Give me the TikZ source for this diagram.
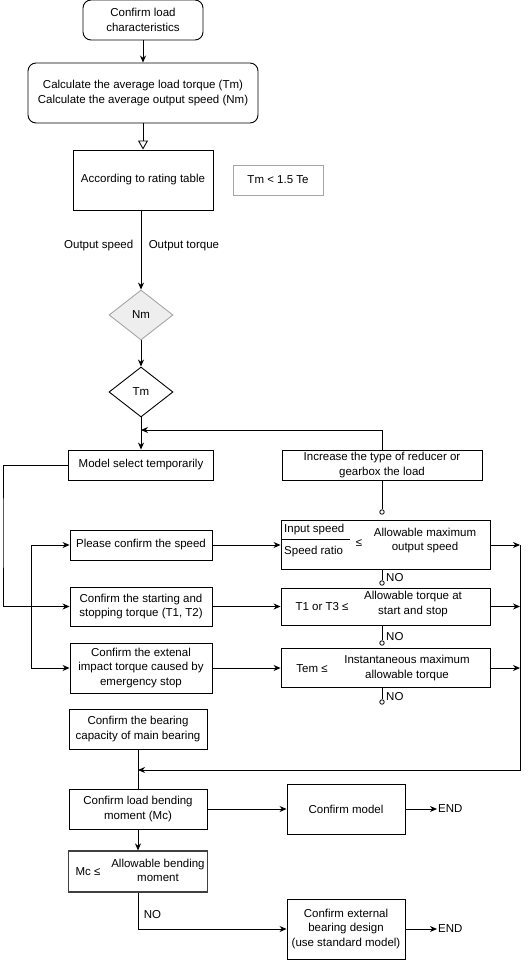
\documentclass[tikz,border=0pt]{standalone}
\usepackage{fontspec}
\setmainfont{Liberation Sans}
\usepackage{xcolor}
\usetikzlibrary{shapes.geometric,arrows.meta}
\definecolor{ink}{HTML}{000000}
\definecolor{muted}{HTML}{A6A6A6}
\definecolor{shade}{HTML}{EEEEEE}
\tikzset{
  box/.style={draw=ink, line width=0.9pt, fill=white, align=center, inner sep=2pt},
  rbox/.style={box, rounded corners=8pt},
  note/.style={draw=muted, line width=0.9pt, align=center},
  dec/.style={diamond, draw=ink, line width=0.9pt, inner sep=0pt, minimum width=64pt, minimum height=50pt},
  wire/.style={draw=ink, line width=0.9pt},
  arr/.style={wire, -{Stealth[length=7pt,width=6pt]}},
  open/.style={wire, -{Triangle[open,length=9pt,width=10pt]}},
  hole/.style={circle, draw=ink, fill=white, line width=0.8pt, inner sep=0pt, minimum size=4.5pt},
  lab/.style={align=center, inner sep=1pt},
}

\begin{document}
\begin{tikzpicture}[x=1pt, y=-1pt, every node/.style={font=\fontsize{11.5}{14.5}\selectfont}]
  \fill[white] (0,0) rectangle (530,960);
  \useasboundingbox (0,0) rectangle (530,960);
  % main column
  \node[rbox, minimum width=120pt, minimum height=40pt] (load) at (143,20) {Confirm load\\characteristics};
  \node[rbox, minimum width=230pt, minimum height=60pt] (calc) at (143,93) {Calculate the average load torque (Tm)\\Calculate the average output speed (Nm)};
  \node[box, minimum width=140pt, minimum height=60pt] (rating) at (143,180) {According to rating table};
  \node[note, minimum width=90pt, minimum height=30pt] (tmte) at (278,180) {Tm {\textless} 1.5 Te};
  \node[dec, fill=shade, draw=muted] (nm) at (141,315) {Nm};
  \node[dec] (tm) at (141,392) {Tm};
  \node[box, minimum width=145pt, minimum height=30pt] (model) at (141,465) {Model select temporarily};
  \node[box, minimum width=142pt, minimum height=30pt] (speed) at (141,545) {Please confirm the speed};
  \node[box, minimum width=142pt, minimum height=39pt] (start) at (141,606.5) {Confirm the starting and\\stopping torque (T1, T2)};
  \node[box, minimum width=142pt, minimum height=50pt] (ext) at (141,668) {Confirm the extenal\\impact torque caused by\\emergency stop};
  \node[box, minimum width=138pt, minimum height=40pt] (bear) at (138,729) {Confirm the bearing\\capacity of main bearing};
  \node[box, minimum width=138pt, minimum height=40pt] (bend) at (138,809) {Confirm load bending\\moment (Mc)};
  \node[box, draw=ink!75, line width=1.2pt, minimum width=139pt, minimum height=41pt] (mc) at (138,871.5) {};
  \node[lab] (mcle) at (88,872) {Mc ≤};
  \node[lab] (mcok) at (158,870.5) {Allowable bending\\moment};
  \node[box, minimum width=118pt, minimum height=50pt] (cmodel) at (346,809) {Confirm model};
  \node[box, minimum width=118pt, minimum height=60pt] (cext) at (346,929) {Confirm external\\bearing design\\(use standard model)};
  \node[lab, anchor=west] (end1) at (437,809) {END};
  \node[lab, anchor=west] (end2) at (437,929) {END};
  % checks on the right
  \node[box, minimum width=200pt, minimum height=30pt] (incr) at (382,465) {Increase the type of reducer or\\gearbox the load};
  \node[box, minimum width=209pt, minimum height=49pt] (chk1) at (385.5,545) {};
  \node[lab, anchor=west] (inspd) at (283,530) {Input speed};
  \node[lab, anchor=west] (ratio) at (283,552) {Speed ratio};
  \coordinate (fr) at (350,539);
  \draw[wire] (chk1.west |- fr) -- (fr);
  \node[lab] (le1) at (359,543) {≤};
  \node[lab] (max1) at (425,540.5) {Allowable maximum\\output speed};
  \node[box, minimum width=209pt, minimum height=37pt] (chk2) at (385.5,606.5) {};
  \node[lab] (t13) at (322,607) {T1 or T3 ≤};
  \node[lab] (max2) at (413,604) {Allowable torque at\\start and stop};
  \node[box, minimum width=209pt, minimum height=39pt] (chk3) at (385.5,668) {};
  \node[lab] (tem) at (312,669) {Tem ≤};
  \node[lab] (max3) at (407,668) {Instantaneous maximum\\allowable torque};
  % NO exits
  \node[hole] (o1) at (382,512) {};
  \node[hole] (o2) at (382,583) {};
  \node[hole] (o3) at (382,643) {};
  \node[hole] (o4) at (382,702) {};
  \node[lab, anchor=west] (no2) at (385,578) {NO};
  \node[lab, anchor=west] (no3) at (385,637) {NO};
  \node[lab, anchor=west] (no4) at (385,697) {NO};
  \draw[wire] (incr.south) -- (o1);
  \draw[wire] (o2 |- chk1.south) -- (o2);
  \draw[wire] (o3 |- chk2.south) -- (o3);
  \draw[wire] (o4 |- chk3.south) -- (o4);
  % connectors
  \coordinate (fb) at (141,430);
  \coordinate (lw) at (3,530);
  \coordinate (bx) at (31,0);
  \coordinate (rb) at (520,770);
  \draw[arr] (load) -- (calc);
  \draw[open] (calc) -- (rating);
  \draw[arr] (rating.south -| nm) -- node[pos=0.44, left=4pt] {Output speed} node[pos=0.44, right=4pt] {Output torque} (nm);
  \draw[arr] (nm) -- (tm);
  \draw[arr] (tm) -- (model);
  \draw[arr] (incr.north) -- (incr.north |- fb) -- (fb);
  \draw[arr] (model.west) -| (lw) |- (start.west);
  \draw[arr] (speed.west -| bx) -- (speed.west);
  \draw[arr] (speed.west -| bx) -- (ext.west -| bx) -- (ext.west);
  \draw[arr] (speed) -- (chk1);
  \draw[arr] (start) -- (chk2);
  \draw[arr] (ext) -- (chk3);
  \draw[arr] (chk1.east) -- (chk1.east -| rb);
  \draw[arr] (chk2.east) -- (chk2.east -| rb);
  \draw[arr] (chk3.east) -- (chk3.east -| rb);
  \draw[arr] (chk1.east -| rb) -- (rb) -- (bear.south |- rb);
  \draw[wire] (bear) -- (bend);
  \draw[arr] (bend) -- (cmodel);
  \draw[arr] (cmodel) -- (end1);
  \draw[arr] (bend) -- (mc);
  \draw[arr] (mc.south) |- node[pos=0.3, right=2pt] {NO} (cext.west);
  \draw[arr] (cext) -- (end2);
\end{tikzpicture}
\end{document}
